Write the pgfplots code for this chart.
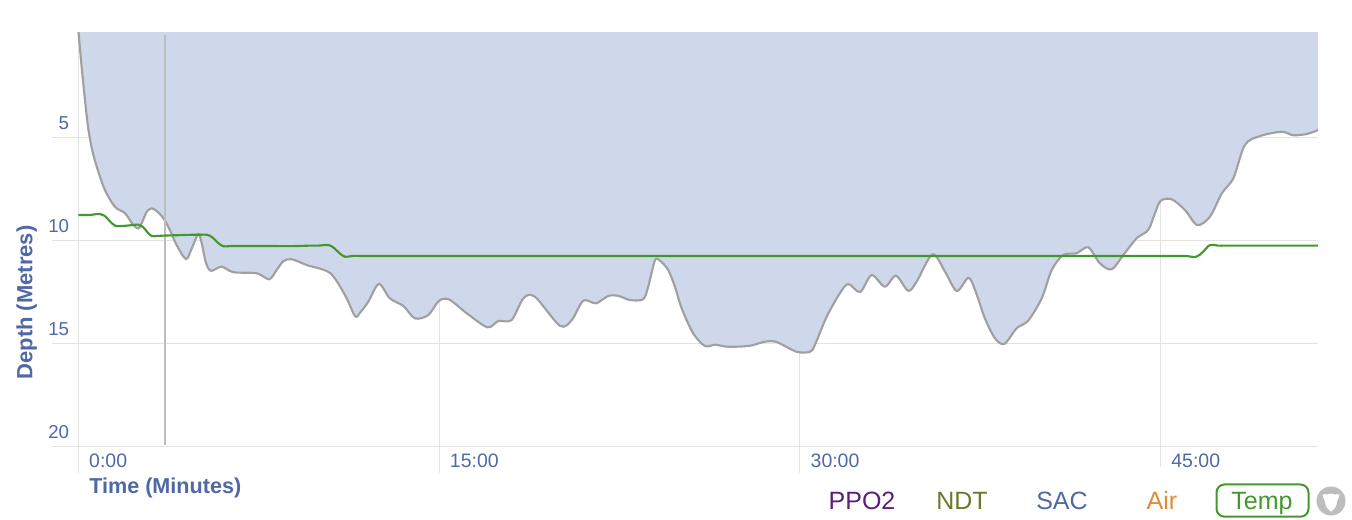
\documentclass[border=0pt]{standalone}
\usepackage{pgfplots}
\usepackage{pgfplotstable}
\usepackage{fontspec}
\setmainfont{Liberation Sans}
\pgfplotsset{compat=1.18}
\definecolor{tickblue}{HTML}{4F68A6}
\definecolor{fillblue}{HTML}{CFD8EB}
\definecolor{curvegrey}{HTML}{A0A0A0}
\definecolor{tempgreen}{HTML}{43982D}
\definecolor{gridgrey}{HTML}{E3E3E3}
\definecolor{crossgrey}{HTML}{BDBDBD}
\definecolor{ppo}{HTML}{5B1E7A}
\definecolor{ndt}{HTML}{6B7A2A}
\definecolor{air}{HTML}{E08A3A}
\pgfplotstableread{
t d
0 -0.13
0.13 1.55
0.27 3.17
0.40 4.50
0.56 5.55
0.76 6.41
1.10 7.54
1.52 8.36
1.93 8.66
2.28 9.24
2.49 9.40
2.63 9.14
2.84 8.59
3.04 8.43
3.25 8.56
3.53 8.91
3.80 9.48
4.08 10.21
4.47 10.89
4.71 10.37
4.98 9.67
5.12 10.11
5.30 11.08
5.51 11.46
5.95 11.26
6.44 11.53
7.41 11.58
7.93 11.87
8.24 11.42
8.52 10.99
8.87 10.90
9.49 11.18
10.46 11.57
11.08 12.64
11.50 13.66
11.70 13.50
12.05 12.96
12.49 12.10
12.95 12.80
13.51 13.17
13.99 13.77
14.54 13.61
15.00 12.91
15.42 12.86
16.14 13.52
17.00 14.20
17.46 13.90
18.01 13.85
18.50 12.80
18.98 12.72
20.02 14.13
20.51 13.85
20.99 12.91
21.52 13.04
22.03 12.68
22.45 12.68
22.93 12.88
23.48 12.84
23.69 12.23
23.97 10.95
24.18 10.97
24.52 11.42
24.80 12.23
25.08 13.28
25.56 14.50
26.05 15.11
26.47 15.05
27.02 15.15
27.92 15.10
28.54 14.90
29.03 14.92
29.86 15.39
30.42 15.39
30.62 15.06
31.11 13.69
31.66 12.55
32.01 12.10
32.50 12.49
32.98 11.67
33.53 12.23
33.99 11.70
34.50 12.43
34.85 11.99
35.51 10.66
36.03 11.50
36.52 12.44
37.00 11.80
37.28 12.39
37.69 13.77
38.11 14.74
38.50 15.01
39.01 14.25
39.49 13.88
40.05 12.80
40.47 11.42
40.95 10.69
41.50 10.61
41.99 10.32
42.47 11.10
42.96 11.39
43.43 10.72
44.00 9.88
44.48 9.48
44.76 8.67
45.00 8.06
45.46 7.99
46.01 8.51
46.52 9.24
47.05 8.83
47.54 7.70
48.02 6.97
48.50 5.35
49.13 4.92
50.03 4.71
50.51 4.88
51.07 4.82
51.54 4.63
}\depthtable
\pgfplotstableread{
t d
0 8.75
0.45 8.75
0.89 8.70
1.10 8.80
1.30 9.05
1.52 9.27
1.73 9.29
2.10 9.26
2.49 9.22
2.68 9.33
2.86 9.58
3.04 9.77
3.26 9.77
3.60 9.75
4.20 9.73
4.80 9.71
5.10 9.71
5.33 9.71
5.55 9.82
5.80 10.10
6.02 10.27
6.30 10.26
6.60 10.26
7.20 10.26
8.20 10.26
9.00 10.26
9.60 10.24
9.96 10.24
10.39 10.21
10.62 10.35
10.85 10.60
11.08 10.78
11.37 10.74
11.70 10.74
12.30 10.74
13.50 10.74
16.00 10.74
21.00 10.74
30.00 10.74
38.00 10.74
42.00 10.74
44.50 10.74
45.50 10.74
45.85 10.74
46.05 10.74
46.47 10.78
46.75 10.55
47.05 10.21
47.38 10.24
47.70 10.24
48.30 10.24
49.50 10.24
51.54 10.24
}\temptable
\begin{document}
\begin{tikzpicture}
\begin{scope}[x=0.75pt,y=0.75pt]
\path[use as bounding box] (-78.5,-73.3) rectangle (1273.5,446.7);
\end{scope}
\begin{axis}[
  at={(0,0)}, anchor=south west,
  scale only axis,
  width=929.6pt, height=311pt,
  xmin=0, xmax=51.54,
  ymin=-0.13, ymax=20,
  y dir=reverse,
  axis line style={draw=none},
  grid=major,
  grid style={gridgrey,line width=0.75pt},
  tick style={gridgrey,line width=0.75pt},
  tick align=outside,
  major tick length=19.5pt,
  xtick pos=bottom, ytick pos=left,
  xtick={0,15,30,45},
  xticklabels={0:00,15:00,30:00,45:00},
  ytick={5,10,15,20},
  yticklabels={5,10,15,20},
  x tick style={shorten <=4.5pt},
  xticklabel style={font=\fontsize{14.6}{16}\selectfont,text=tickblue,anchor=base west,xshift=4.5pt,yshift=4pt},
  yticklabel style={font=\fontsize{14}{16}\selectfont,text=tickblue,anchor=base east,xshift=16pt,yshift=6.5pt},
  /pgf/number format/assume math mode=true,
  clip=false,
]
\addplot[fill=fillblue,draw=none,smooth,tension=0.5,forget plot] table[x=t,y=d] {\depthtable} -- (axis cs:51.54,-0.13) -- (axis cs:0,-0.13) -- cycle;
\addplot[curvegrey,line width=1.6pt,smooth,tension=0.5] table[x=t,y=d] {\depthtable};
\addplot[crossgrey,line width=1.3pt] coordinates {(3.6,0) (3.6,19.9)};
\addplot[tempgreen,line width=1.6pt,smooth,tension=0.6] table[x=t,y=d] {\temptable};
\end{axis}
% px to picture: X = px-78.5, Y = 446.7-py
\begin{scope}[x=0.75pt,y=0.75pt]
\node[rotate=90,anchor=base,text=tickblue,font=\fontsize{16.5}{18}\bfseries\selectfont] at (-46,144.2) {Depth (Metres)};
\node[anchor=base west,inner sep=0pt,text=tickblue,font=\fontsize{16.2}{18}\bfseries\selectfont] at (10.5,-47.3) {Time (Minutes)};
\begin{scope}[every node/.style={anchor=base,inner sep=0pt,font=\fontsize{18.75}{22}\selectfont}]
\node[text=ppo] at (783.5,-62.6) {PPO2};
\node[text=ndt] at (883.5,-62.6) {NDT};
\node[text=tickblue] at (983.5,-62.6) {SAC};
\node[text=air] at (1083.5,-62.6) {Air};
\node[text=tempgreen] at (1183.5,-62.6) {Temp};
\end{scope}
\draw[tempgreen,line width=1.5pt,rounded corners=6pt] (1138,-37.8) rectangle (1230,-70);
\fill[crossgrey] (1252.5,-54.3) circle (14.5);
\fill[white] (1244,-48) .. controls (1248,-46.5) and (1250,-49) .. (1252.5,-47) .. controls (1255,-49) and (1257,-46.5) .. (1261,-48) .. controls (1260.5,-52) and (1258,-54) .. (1258,-58) .. controls (1257,-62) and (1254,-63) .. (1252.5,-65) .. controls (1251,-63) and (1248,-62) .. (1247,-58) .. controls (1247,-54) and (1244.5,-52) .. (1244,-48) -- cycle;
\end{scope}
\end{tikzpicture}
\end{document}
